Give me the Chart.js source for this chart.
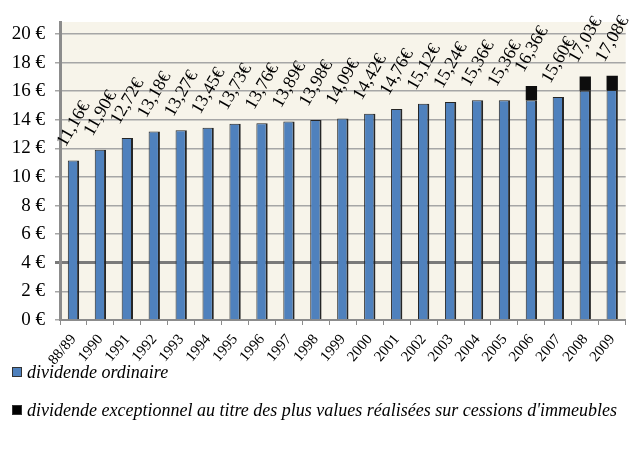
<!DOCTYPE html>
<html>
<head>
<meta charset="utf-8">
<script src="https://cdn.jsdelivr.net/npm/chart.js@4"></script>
<style>
  body { margin: 0; background: #fff; }
  #wrap { position: relative; width: 632px; height: 452px; }
  .leg { position: absolute; left: 12px; font: italic 18px "Liberation Serif", serif; color: #000; white-space: nowrap; }
  .leg span { display: inline-block; width: 8px; height: 8px; border: 1px solid #333; margin-right: 5px; vertical-align: 1px; }
</style>
</head>
<body>
<div id="wrap">
  <canvas id="myChart" width="632" height="452"></canvas>
  <div class="leg" style="top:362px"><span style="background:#4f81bd"></span>dividende ordinaire</div>
  <div class="leg" style="top:400px"><span style="background:#000"></span>dividende exceptionnel au titre des plus values réalisées sur cessions d'immeubles</div>
</div>
<script>
// years
const years = ['88/89', '1990', '1991', '1992', '1993', '1994', '1995', '1996', '1997', '1998', '1999',
  '2000', '2001', '2002', '2003', '2004', '2005', '2006', '2007', '2008', '2009'];
// dividende ordinaire
const ordinaire = [11.16, 11.90, 12.72, 13.18, 13.27, 13.45, 13.73, 13.76, 13.89, 13.98, 14.09,
  14.42, 14.76, 15.12, 15.24, 15.36, 15.36, 15.36, 15.60, 16.03, 16.08];
// dividende exceptionnel
const exceptionnel = [0, 0, 0, 0, 0, 0, 0, 0, 0, 0, 0,
  0, 0, 0, 0, 0, 0, 1.00, 0, 1.00, 1.00];
const yTicks = [0, 2, 4, 6, 8, 10, 12, 14, 16, 18, 20];

const serif = '"Liberation Serif"';

// beige plot background
const plotBg = {
  id: 'plotBg',
  beforeDraw(chart) {
    const { ctx, chartArea: a } = chart;
    ctx.save();
    ctx.fillStyle = '#f7f4ea';
    ctx.fillRect(a.left, a.top, a.right - a.left, a.bottom - a.top);
    ctx.restore();
  }
};

// rotated total labels above each bar
const totals = {
  id: 'totals',
  afterDatasetsDraw(chart) {
    const { ctx } = chart;
    const meta = chart.getDatasetMeta(0);
    const y = chart.scales.y;
    ctx.save();
    ctx.font = '18px ' + serif;
    ctx.fillStyle = '#000';
    ctx.textAlign = 'left';
    ctx.textBaseline = 'alphabetic';
    years.forEach((_, i) => {
      const total = ordinaire[i] + exceptionnel[i];
      const x = meta.data[i].x;
      const top = y.getPixelForValue(total);
      ctx.save();
      ctx.translate(x - 8, top - 13);
      ctx.rotate(-60 * Math.PI / 180);
      ctx.fillText(total.toFixed(2).replace('.', ',') + '€', 0, 0);
      ctx.restore();
    });
    ctx.restore();
  }
};

function initChart() {
  const ctx = document.getElementById('myChart').getContext('2d');
  return new Chart(ctx, {
    type: 'bar',
    data: {
      labels: years,
      datasets: [{
        label: 'dividende ordinaire',
        data: ordinaire,
        backgroundColor: '#4f81bd',
        borderColor: '#262626',
        borderWidth: { top: 1, left: 1, right: 2, bottom: 0 },
        borderSkipped: false,
        barPercentage: 0.42,
        categoryPercentage: 1
      }, {
        label: "dividende exceptionnel au titre des plus values réalisées sur cessions d'immeubles",
        data: exceptionnel,
        backgroundColor: '#0d0d0d',
        borderWidth: 0,
        barPercentage: 0.42,
        categoryPercentage: 1
      }]
    },
    options: {
      responsive: false,
      animation: false,
      layout: { padding: { top: 22, left: 0, right: 0, bottom: 0 } },
      plugins: {
        legend: { display: false },
        tooltip: { enabled: false }
      },
      scales: {
        x: {
          stacked: true,
          offset: true,
          afterFit: s => { s.height = 132; },
          grid: { offset: true, drawOnChartArea: false, drawTicks: true, tickLength: 5, color: '#8c8c8c', lineWidth: 1 },
          border: { color: '#8c8c8c', width: 2 },
          ticks: {
            font: { family: serif, size: 15 },
            color: '#000',
            minRotation: 50,
            maxRotation: 50,
            padding: 6,
            autoSkip: false
          }
        },
        y: {
          stacked: true,
          min: 0,
          max: 20.84,
          afterFit: s => { s.width = 60; },
          afterBuildTicks: s => { s.ticks = yTicks.map(v => ({ value: v })); },
          grid: {
            color: c => c.tick && c.tick.value === 4 ? '#7a7a7a' : '#a6a6a6',
            lineWidth: c => c.tick && c.tick.value === 4 ? 3 : 1.5,
            tickLength: 5
          },
          border: { color: '#8c8c8c', width: 3 },
          ticks: {
            font: { family: serif, size: 19 },
            color: '#000',
            padding: 10,
            callback: v => v + ' €'
          }
        }
      }
    },
    plugins: [plotBg, totals]
  });
}

let myChart;
Promise.all([
  document.fonts.load('16px "Liberation Serif"', '0123456789€'),
  document.fonts.load('italic 18px "Liberation Serif"', 'dividende')
]).finally(() => { myChart = initChart(); });
</script>
</body>
</html>
